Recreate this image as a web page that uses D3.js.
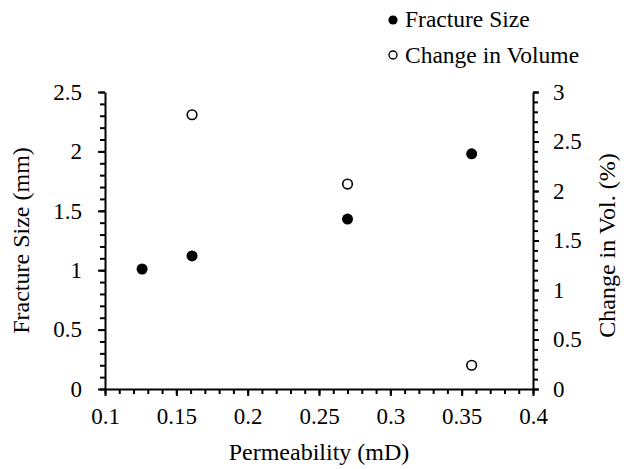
<!DOCTYPE html>
<html>
<head>
<meta charset="utf-8">
<script src="https://cdn.jsdelivr.net/npm/d3@7"></script>
</head>
<body style="margin:0">
<script>
// Data
var permeability = [0.126, 0.161, 0.27, 0.357];
var fractureSize = [1.01, 1.12, 1.43, 1.98];
var volPermeability = [0.161, 0.27, 0.357];
var changeInVolume = [2.77, 2.07, 0.24];

var xTicks = [0.1, 0.15, 0.2, 0.25, 0.3, 0.35, 0.4];
var leftTicks = [0, 0.5, 1, 1.5, 2, 2.5];
var rightTicks = [0, 0.5, 1, 1.5, 2, 2.5, 3];

// Layout
var svgWidth = 624;
var svgHeight = 469;
var margin = { top: 92, right: 91, bottom: 80, left: 105 };
var width = svgWidth - margin.left - margin.right;
var height = svgHeight - margin.top - margin.bottom;
var serif = "Liberation Serif";

var svg = d3.select("body")
  .append("svg")
  .attr("width", svgWidth)
  .attr("height", svgHeight);

// Scales (ranges in page coordinates)
var xScale = d3.scaleLinear().domain([0.1, 0.4]).range([margin.left, margin.left + width]);
var yLeft = d3.scaleLinear().domain([0, 2.5]).range([margin.top + height, margin.top]);
var yRight = d3.scaleLinear().domain([0, 3]).range([margin.top + height, margin.top]);

var minorX = d3.range(0, 31).map(function (i) { return 0.1 + i * 0.01; });
var minorLeft = d3.range(0, 26).map(function (i) { return i * 0.1; });
var minorRight = d3.range(0, 31).map(function (i) { return i * 0.1; });

function drawAxis(axis, transform, labelled) {
  var g = svg.append("g")
    .attr("transform", transform)
    .call(axis);
  g.attr("font-family", serif).attr("font-size", 23);
  g.selectAll("line").attr("stroke", "black").attr("stroke-width", 2);
  g.selectAll("path").attr("stroke", "black").attr("stroke-width", 2);
  g.selectAll("text").attr("fill", "black").attr("font-family", serif);
  if (!labelled) g.select(".domain").remove();
  return g;
}

// Minor ticks
drawAxis(d3.axisBottom(xScale).tickValues(minorX).tickSize(5).tickFormat(""),
  "translate(0," + (margin.top + height) + ")", false);
drawAxis(d3.axisLeft(yLeft).tickValues(minorLeft).tickSize(5).tickFormat(""),
  "translate(" + margin.left + ",0)", false);
drawAxis(d3.axisRight(yRight).tickValues(minorRight).tickSize(5).tickFormat(""),
  "translate(" + (margin.left + width) + ",0)", false);

// Major ticks and labels
drawAxis(d3.axisBottom(xScale).tickValues(xTicks).tickSize(7).tickSizeOuter(0).tickPadding(12).tickFormat(d3.format("")),
  "translate(0," + (margin.top + height) + ")", true);
drawAxis(d3.axisLeft(yLeft).tickValues(leftTicks).tickSize(7).tickSizeOuter(0).tickPadding(16).tickFormat(d3.format("")),
  "translate(" + margin.left + ",0)", true);
drawAxis(d3.axisRight(yRight).tickValues(rightTicks).tickSize(6).tickSizeOuter(0).tickPadding(14).tickFormat(d3.format("")),
  "translate(" + (margin.left + width) + ",0)", true);

// Points
svg.selectAll(".vol")
  .data(volPermeability)
  .enter().append("circle")
  .attr("class", "vol")
  .attr("cx", function (d) { return xScale(d); })
  .attr("cy", function (d, i) { return yRight(changeInVolume[i]); })
  .attr("r", 4.8)
  .attr("fill", "#fff")
  .attr("stroke", "#000")
  .attr("stroke-width", 1.6);

svg.selectAll(".frac")
  .data(permeability)
  .enter().append("circle")
  .attr("class", "frac")
  .attr("cx", function (d) { return xScale(d); })
  .attr("cy", function (d, i) { return yLeft(fractureSize[i]); })
  .attr("r", 5.5)
  .attr("fill", "#000");

// Axis titles
svg.append("text")
  .attr("x", margin.left + width / 2)
  .attr("y", 460)
  .attr("text-anchor", "middle")
  .attr("font-family", serif)
  .attr("font-size", 24)
  .attr("fill", "#000")
  .text("Permeability (mD)");

svg.append("text")
  .attr("transform", "translate(29," + (margin.top + height / 2) + ") rotate(-90)")
  .attr("text-anchor", "middle")
  .attr("font-family", serif)
  .attr("font-size", 24)
  .attr("fill", "#000")
  .text("Fracture Size (mm)");

svg.append("text")
  .attr("transform", "translate(615," + (margin.top + height / 2 + 5) + ") rotate(-90)")
  .attr("text-anchor", "middle")
  .attr("font-family", serif)
  .attr("font-size", 24)
  .attr("fill", "#000")
  .text("Change in Vol. (%)");

// Legend
var legend = svg.append("g");
legend.append("circle").attr("cx", 393).attr("cy", 20).attr("r", 4.6).attr("fill", "#000");
legend.append("text").attr("x", 405).attr("y", 27).text("Fracture Size");
legend.append("circle").attr("cx", 393).attr("cy", 55).attr("r", 4).attr("fill", "#fff").attr("stroke", "#000").attr("stroke-width", 1.4);
legend.append("text").attr("x", 405).attr("y", 63).text("Change in Volume");
legend.selectAll("text")
  .attr("font-family", serif)
  .attr("font-size", 23.5)
  .attr("fill", "#000");
</script>
</body>
</html>
